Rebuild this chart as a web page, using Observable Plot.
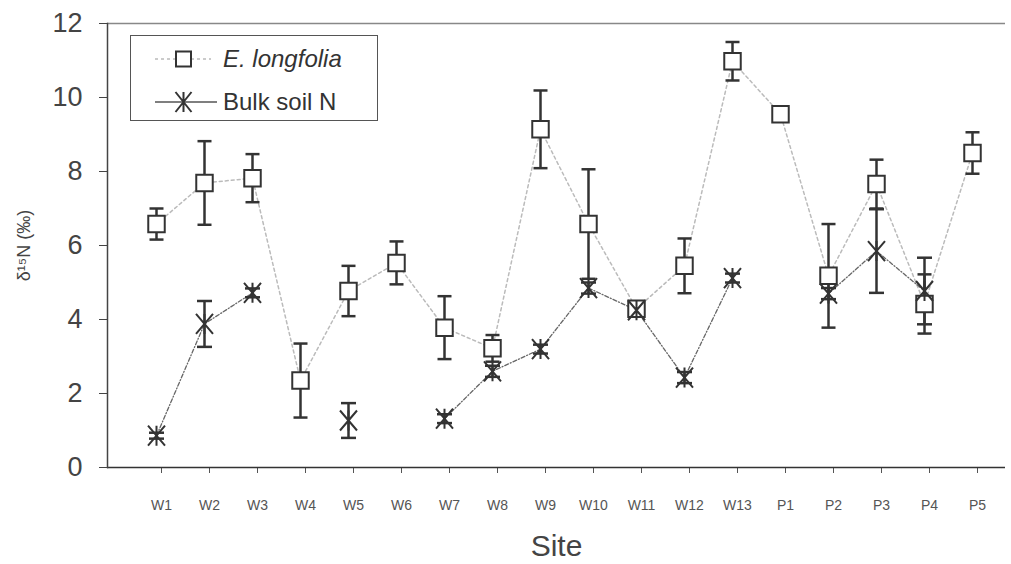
<!DOCTYPE html>
<html>
<head>
<meta charset="utf-8">
<script src="https://cdn.jsdelivr.net/npm/d3@7"></script>
<script src="https://cdn.jsdelivr.net/npm/@observablehq/plot@0.6"></script>
<style>
  html, body { margin: 0; padding: 0; background: #fff; }
  #wrap { position: relative; width: 1011px; height: 564px; font-family: "Liberation Sans", Arial, sans-serif; }
  #legend { position: absolute; left: 130px; top: 35px; width: 246px; height: 84px; border: 1.5px solid #555; background: #fff; }
  #legend .row { position: absolute; left: 0; height: 30px; display: flex; align-items: center; }
  #legend .lab { position: absolute; left: 92px; font-size: 24px; color: #333; white-space: nowrap; line-height: 30px; }
</style>
</head>
<body>
<div id="wrap"></div>
<script>
// ---- data ----
const sites = ["W1","W2","W3","W4","W5","W6","W7","W8","W9","W10","W11","W12","W13","P1","P2","P3","P4","P5"];
const eLongMean = [6.58, 7.69, 7.82, 2.35, 4.77, 5.53, 3.78, 3.22, 9.14, 6.58, 4.29, 5.45, 10.98, 9.55, 5.18, 7.66, 4.42, 8.50];
const eLongErr  = [0.42, 1.13, 0.65, 1.00, 0.68, 0.58, 0.85, 0.36, 1.05, 1.48, 0.15, 0.74, 0.52, 0.20, 1.40, 0.66, 0.80, 0.56];
const soilMean  = [0.86, 3.88, 4.72, null, 1.27, null, 1.32, 2.60, 3.20, 4.85, 4.25, 2.43, 5.12, null, 4.70, 5.85, 4.77, null];
const soilErr   = [0.08, 0.62, 0.12, null, 0.47, null, 0.12, 0.15, 0.12, 0.15, 0.12, 0.15, 0.12, null, 0.15, 1.13, 0.90, null];
const yTicks = [0, 2, 4, 6, 8, 10, 12];
const seriesNames = ["E. longfolia", "Bulk soil N"];

const rows = sites.map((s, i) => ({
  site: s,
  e: eLongMean[i], eLo: eLongMean[i] - eLongErr[i], eHi: eLongMean[i] + eLongErr[i],
  b: soilMean[i] == null ? NaN : soilMean[i],
  bLo: soilMean[i] == null ? NaN : soilMean[i] - soilErr[i],
  bHi: soilMean[i] == null ? NaN : soilMean[i] + soilErr[i]
}));

const capSymbol = { draw(ctx, size) { const r = Math.sqrt(size / Math.PI); ctx.moveTo(-r, 0); ctx.lineTo(r, 0); } };
const starSymbol = { draw(ctx, size) {
  const r = Math.sqrt(size / Math.PI), a = r * 0.85;
  ctx.moveTo(0, -r); ctx.lineTo(0, r);
  ctx.moveTo(-a, -r); ctx.lineTo(a, r);
  ctx.moveTo(-a, r); ctx.lineTo(a, -r);
} };

const ink = "#333";
const chart = Plot.plot({
  width: 1011, height: 564,
  marginLeft: 107, marginRight: 6, marginTop: 23, marginBottom: 97,
  style: { fontFamily: "'Liberation Sans', Arial, sans-serif", background: "#fff" },
  x: { type: "point", domain: sites, padding: 0, insetLeft: 48, insetRight: 33 },
  y: { domain: [0, 12] },
  marks: [
    Plot.ruleY([12], { stroke: "#888", strokeWidth: 1.5 }),
    Plot.axisY({ ticks: yTicks, tickSize: 8, tickPadding: 17, fontSize: 27, color: "#444", label: null, tickFormat: d => String(d) }),
    Plot.axisY({ ticks: [], label: "δ¹⁵N (‰)", labelAnchor: "center", labelArrow: "none", labelOffset: 90, fontSize: 18, color: "#444" }),
    Plot.axisX({ tickSize: 6, tickPadding: 27, fontSize: 14, color: "#555", label: null, dx: 5 }),
    Plot.axisX({ ticks: [], label: "Site", labelAnchor: "center", labelArrow: "none", labelOffset: 88, fontSize: 30, color: "#444" }),
    Plot.ruleY([0], { stroke: ink, strokeWidth: 1.5 }),
    Plot.frame({ anchor: "left", stroke: "#444", strokeWidth: 1.5 }),
    // connecting lines
    Plot.line(rows, { x: "site", y: "e", stroke: "#bbb", strokeWidth: 1.5, strokeDasharray: "3,3" }),
    Plot.line(rows, { x: "site", y: "b", stroke: "#666", strokeWidth: 1.3, strokeDasharray: "4,2,1,2" }),
    // error bars
    Plot.ruleX(rows, { x: "site", y1: "eLo", y2: "eHi", stroke: ink, strokeWidth: 2.5 }),
    Plot.dot(rows, { x: "site", y: "eLo", symbol: capSymbol, r: 7, stroke: ink, strokeWidth: 2.5, fill: "none" }),
    Plot.dot(rows, { x: "site", y: "eHi", symbol: capSymbol, r: 7, stroke: ink, strokeWidth: 2.5, fill: "none" }),
    Plot.ruleX(rows, { x: "site", y1: "bLo", y2: "bHi", stroke: ink, strokeWidth: 2.5 }),
    Plot.dot(rows, { x: "site", y: "bLo", symbol: capSymbol, r: 7.5, stroke: ink, strokeWidth: 2.5, fill: "none" }),
    Plot.dot(rows, { x: "site", y: "bHi", symbol: capSymbol, r: 7.5, stroke: ink, strokeWidth: 2.5, fill: "none" }),
    // markers
    Plot.dot(rows, { x: "site", y: "e", symbol: "square", r: 9.3, fill: "white", stroke: ink, strokeWidth: 2 }),
    Plot.dot(rows, { x: "site", y: "b", symbol: starSymbol, r: 10, fill: "none", stroke: ink, strokeWidth: 2 })
  ]
});

const wrap = document.getElementById("wrap");
wrap.appendChild(chart);

// legend (overlay inside plot area)
const legend = document.createElement("div");
legend.id = "legend";
legend.innerHTML = `
  <div class="row" style="top:8px;width:100%">
    <svg width="90" height="30" style="position:absolute;left:0;top:0">
      <line x1="24" x2="80" y1="15" y2="15" stroke="#bbb" stroke-width="1.5" stroke-dasharray="3,3"></line>
      <rect x="45" y="7.5" width="15" height="15" fill="#fff" stroke="${ink}" stroke-width="2"></rect>
    </svg>
    <span class="lab" style="font-style:italic">${seriesNames[0]}</span>
  </div>
  <div class="row" style="top:51px;width:100%">
    <svg width="90" height="30" style="position:absolute;left:0;top:0">
      <line x1="24" x2="86" y1="15" y2="15" stroke="#555" stroke-width="1.3"></line>
      <path d="M52.5,5V25M44.5,5L60.5,25M44.5,25L60.5,5" fill="none" stroke="${ink}" stroke-width="2"></path>
    </svg>
    <span class="lab">${seriesNames[1]}</span>
  </div>`;
wrap.appendChild(legend);
</script>
</body>
</html>
